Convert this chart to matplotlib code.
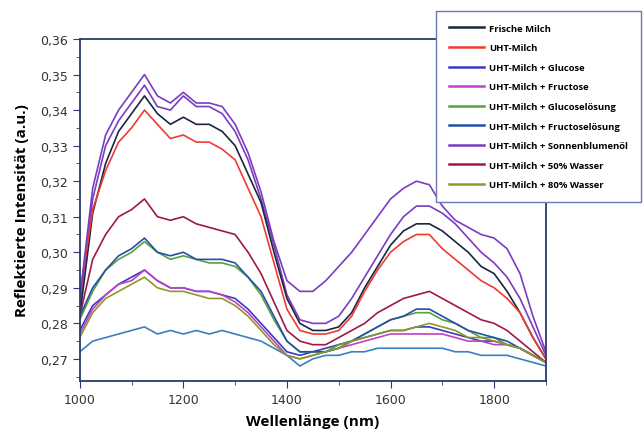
import numpy as np
import matplotlib.pyplot as plt
from matplotlib.ticker import MultipleLocator, FuncFormatter

# wavelength grid (nm)
wl = [1000, 1025, 1050, 1075, 1100, 1125, 1150, 1175, 1200, 1225, 1250, 1275, 1300,
      1325, 1350, 1375, 1400, 1425, 1450, 1475, 1500, 1525, 1550, 1575, 1600, 1625,
      1650, 1675, 1700, 1725, 1750, 1775, 1800, 1825, 1850, 1875, 1900]

frische = [0.282, 0.311, 0.325, 0.334, 0.339, 0.344, 0.339, 0.336, 0.338, 0.336, 0.336, 0.334, 0.330,
           0.322, 0.314, 0.300, 0.287, 0.280, 0.278, 0.278, 0.279, 0.283, 0.290, 0.296, 0.302, 0.306,
           0.308, 0.308, 0.306, 0.303, 0.300, 0.296, 0.294, 0.289, 0.283, 0.276, 0.270]
uht = [0.288, 0.312, 0.323, 0.331, 0.335, 0.340, 0.336, 0.332, 0.333, 0.331, 0.331, 0.329, 0.326,
       0.318, 0.310, 0.297, 0.284, 0.278, 0.277, 0.277, 0.278, 0.282, 0.289, 0.295, 0.300, 0.303,
       0.305, 0.305, 0.301, 0.298, 0.295, 0.292, 0.290, 0.287, 0.283, 0.276, 0.270]
glucose = [0.278, 0.285, 0.288, 0.291, 0.293, 0.295, 0.292, 0.290, 0.290, 0.289, 0.289, 0.288, 0.287,
           0.284, 0.280, 0.276, 0.272, 0.271, 0.272, 0.273, 0.274, 0.275, 0.276, 0.277, 0.278, 0.278,
           0.279, 0.279, 0.278, 0.277, 0.276, 0.275, 0.275, 0.274, 0.273, 0.271, 0.269]
fructose = [0.277, 0.284, 0.288, 0.291, 0.292, 0.295, 0.292, 0.290, 0.290, 0.289, 0.289, 0.288, 0.286,
            0.283, 0.279, 0.275, 0.271, 0.270, 0.271, 0.272, 0.273, 0.274, 0.275, 0.276, 0.277, 0.277,
            0.277, 0.277, 0.277, 0.276, 0.275, 0.275, 0.274, 0.274, 0.273, 0.271, 0.269]
glucoseloesung = [0.281, 0.289, 0.295, 0.298, 0.300, 0.303, 0.300, 0.298, 0.299, 0.298, 0.297, 0.297, 0.296,
                  0.293, 0.288, 0.281, 0.275, 0.272, 0.272, 0.272, 0.274, 0.275, 0.277, 0.279, 0.281, 0.282,
                  0.283, 0.283, 0.281, 0.280, 0.278, 0.276, 0.276, 0.274, 0.273, 0.271, 0.269]
fructoseloesung = [0.282, 0.290, 0.295, 0.299, 0.301, 0.304, 0.300, 0.299, 0.300, 0.298, 0.298, 0.298, 0.297,
                   0.293, 0.289, 0.282, 0.275, 0.272, 0.272, 0.272, 0.273, 0.275, 0.277, 0.279, 0.281, 0.282,
                   0.284, 0.284, 0.282, 0.280, 0.278, 0.277, 0.276, 0.275, 0.273, 0.271, 0.269]
sonnenblume = [0.287, 0.318, 0.333, 0.340, 0.345, 0.350, 0.344, 0.342, 0.345, 0.342, 0.342, 0.341, 0.336,
               0.328, 0.317, 0.303, 0.292, 0.289, 0.289, 0.292, 0.296, 0.300, 0.305, 0.310, 0.315, 0.318,
               0.320, 0.319, 0.313, 0.309, 0.307, 0.305, 0.304, 0.301, 0.294, 0.282, 0.272]
wasser50 = [0.282, 0.298, 0.305, 0.310, 0.312, 0.315, 0.310, 0.309, 0.310, 0.308, 0.307, 0.306, 0.305,
            0.300, 0.294, 0.286, 0.278, 0.275, 0.274, 0.274, 0.276, 0.278, 0.280, 0.283, 0.285, 0.287,
            0.288, 0.289, 0.287, 0.285, 0.283, 0.281, 0.280, 0.278, 0.275, 0.272, 0.269]
wasser80 = [0.276, 0.283, 0.287, 0.289, 0.291, 0.293, 0.290, 0.289, 0.289, 0.288, 0.287, 0.287, 0.285,
            0.282, 0.278, 0.274, 0.271, 0.270, 0.271, 0.272, 0.273, 0.275, 0.276, 0.277, 0.278, 0.278,
            0.279, 0.280, 0.279, 0.278, 0.276, 0.276, 0.275, 0.274, 0.273, 0.271, 0.269]
# unlabelled curves visible in the plot
extra_violett = [0.285, 0.315, 0.330, 0.337, 0.342, 0.347, 0.341, 0.340, 0.344, 0.341, 0.341, 0.339, 0.334,
                 0.326, 0.315, 0.302, 0.288, 0.281, 0.280, 0.280, 0.282, 0.287, 0.293, 0.299, 0.305, 0.310,
                 0.313, 0.313, 0.311, 0.308, 0.304, 0.300, 0.297, 0.293, 0.287, 0.279, 0.271]
extra_hellblau = [0.272, 0.275, 0.276, 0.277, 0.278, 0.279, 0.277, 0.278, 0.277, 0.278, 0.277, 0.278, 0.277,
                  0.276, 0.275, 0.273, 0.271, 0.268, 0.270, 0.271, 0.271, 0.272, 0.272, 0.273, 0.273, 0.273,
                  0.273, 0.273, 0.273, 0.272, 0.272, 0.271, 0.271, 0.271, 0.270, 0.269, 0.268]

labels = ['Frische Milch', 'UHT-Milch', 'UHT-Milch + Glucose', 'UHT-Milch + Fructose',
          'UHT-Milch + Glucoselösung', 'UHT-Milch + Fructoselösung', 'UHT-Milch + Sonnenblumenöl',
          'UHT-Milch + 50% Wasser', 'UHT-Milch + 80% Wasser']
series = [frische, uht, glucose, fructose, glucoseloesung, fructoseloesung, sonnenblume, wasser50, wasser80]
colors = ['#1b2540', '#f03a32', '#3a3ac0', '#c040c8', '#5aa040', '#2450a8', '#7a3cc0', '#a01848', '#8a9a28']

fig = plt.figure(figsize=(6.43, 4.35), dpi=100)
ax = fig.add_axes([0.124, 0.122, 0.725, 0.786])

ax.plot(wl, extra_hellblau, color='#3a80c0', lw=1.2)
ax.plot(wl, extra_violett, color='#7a3cc0', lw=1.2)
for s, lab, c in zip(series, labels, colors):
    ax.plot(wl, s, color=c, lw=1.2, label=lab)

ax.set_xlim(1000, 1900)
ax.set_ylim(0.2638, 0.36)
ax.xaxis.set_major_locator(MultipleLocator(200))
ax.xaxis.set_minor_locator(MultipleLocator(100))
ax.yaxis.set_major_locator(MultipleLocator(0.01))
ax.yaxis.set_minor_locator(MultipleLocator(0.005))
ax.yaxis.set_major_formatter(FuncFormatter(lambda v, p: f'{v:.2f}'.replace('.', ',')))

navy = '#2b3a6b'
for sp in ax.spines.values():
    sp.set_color(navy)
    sp.set_linewidth(1.3)
ax.tick_params(which='both', direction='out', color=navy, labelsize=9, labelcolor='#333333')
ax.tick_params(which='major', length=5)
ax.tick_params(which='minor', length=3)

ax.set_xlabel('Wellenlänge (nm)', fontsize=11, fontweight='bold', family='Open Sans', labelpad=6)
ax.set_ylabel('Reflektierte Intensität (a.u.)', fontsize=11, fontweight='bold', family='Open Sans', labelpad=8)

leg = fig.legend(loc='upper right', bbox_to_anchor=(641 / 643, 1 - 12 / 435), borderaxespad=0,
                 prop={'family': 'Open Sans', 'weight': 'bold', 'size': 6.8},
                 handlelength=3.7, handletextpad=0.6, labelspacing=1.12, borderpad=1.35,
                 fancybox=False, framealpha=1, edgecolor='#6a7ab0')
leg.get_frame().set_linewidth(1.0)
for h in leg.get_lines():
    h.set_linewidth(1.8)

fig.savefig('out.png', dpi=100)
